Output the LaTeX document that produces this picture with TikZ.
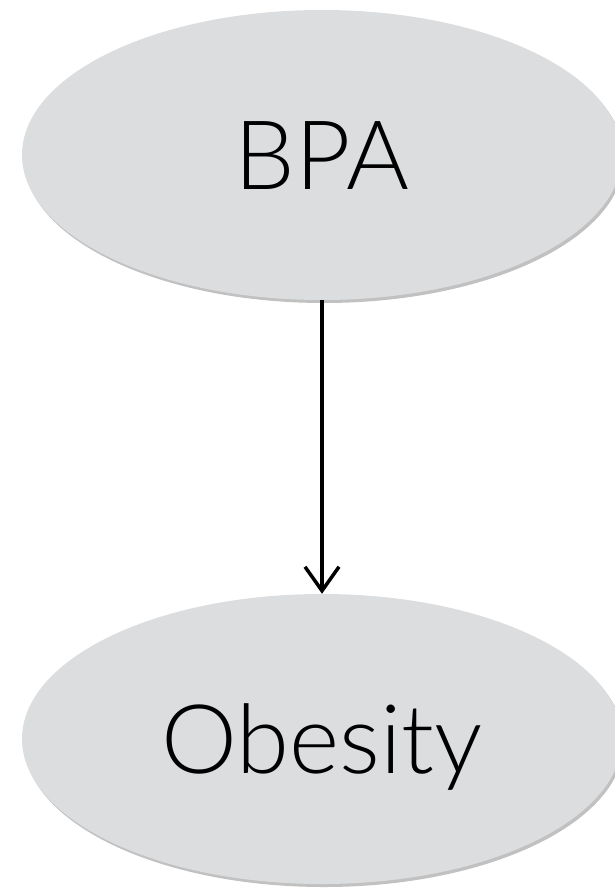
\documentclass[tikz,border=0pt]{standalone}
\usepackage{fontspec}
\setmainfont{Lato}[UprightFont=* Light]
\usetikzlibrary{shapes.geometric,arrows.meta,shadows}
\definecolor{nodegray}{RGB}{220,221,223}
\begin{document}
\begin{tikzpicture}[x=1pt,y=-1pt,
  varnode/.style={ellipse, fill=nodegray, inner sep=0pt,
    minimum width=600pt, minimum height=290pt,
    font=\fontsize{96}{96}\selectfont, text height=68pt, text depth=0pt,
    drop shadow={shadow xshift=2pt, shadow yshift=-3pt, opacity=0.35, fill=black!70}},
  causal/.style={line width=3.5pt, -{Straight Barb[length=24pt,width=34pt]}}]
  \useasboundingbox (0,0) rectangle (615,888);
  \node[varnode] (bpa) at (322,155) {BPA};
  \node[varnode] (obesity) at (322,739) {Obesity};
  \draw[causal] (bpa) -- (obesity);
\end{tikzpicture}
\end{document}
